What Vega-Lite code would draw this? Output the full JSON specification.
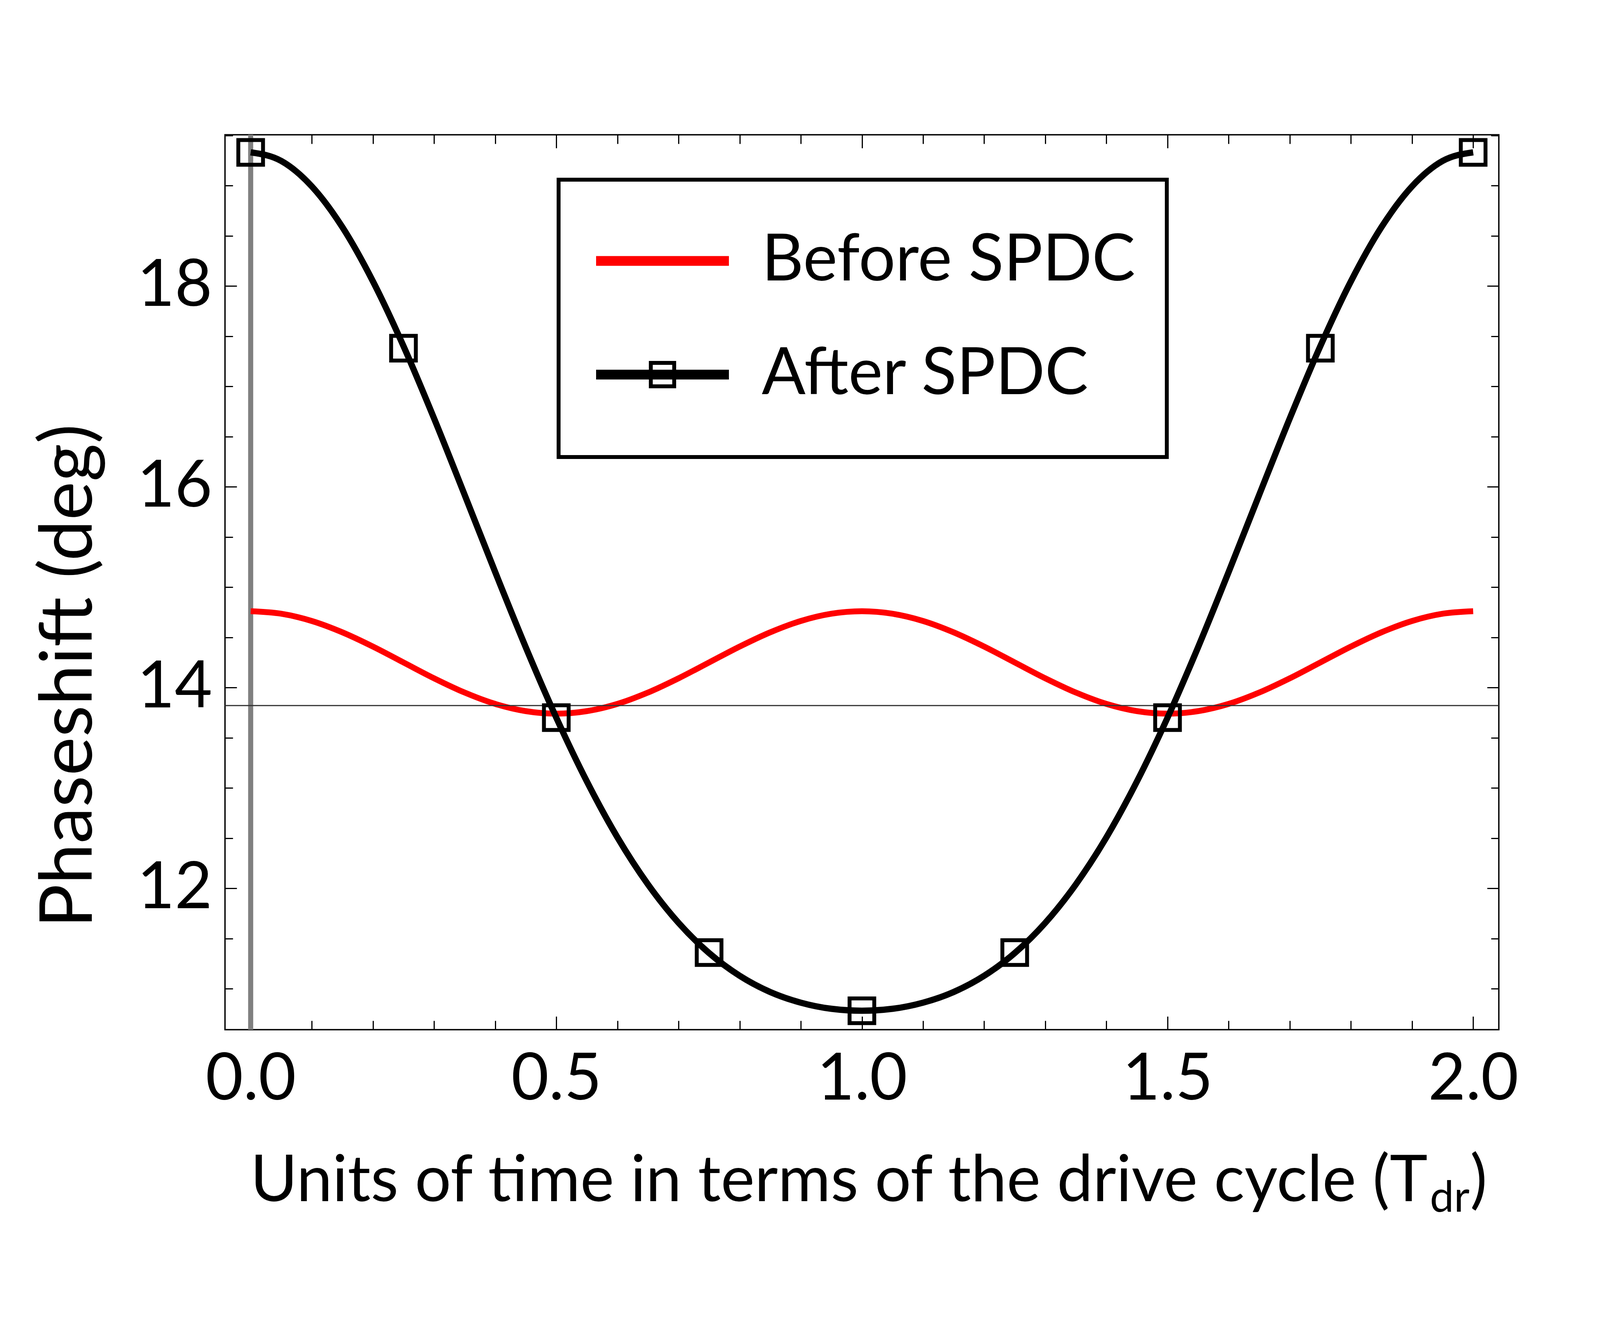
{
  "$schema": "https://vega.github.io/schema/vega-lite/v6.json",
  "width": 3261,
  "height": 2291,
  "autosize": "none",
  "padding": {"left": 576, "top": 345, "right": 259, "bottom": 797},
  "background": "white",
  "config": {
    "font": "Lato",
    "view": {"stroke": "black", "strokeWidth": 3.5},
    "axis": {
      "domain": false,
      "grid": false,
      "tickColor": "black",
      "tickWidth": 3,
      "labelColor": "black",
      "titleColor": "black",
      "labelFont": "Lato",
      "titleFont": "Lato",
      "titleFontWeight": "normal",
      "labelFlush": false,
      "labelOverlap": false,
      "labelLimit": 2000,
      "titleLimit": 5000
    }
  },
  "datasets": {
    "curves": [
      {"t": 0.0, "series": "Before SPDC", "phase": 14.760},
      {"t": 0.05, "series": "Before SPDC", "phase": 14.735},
      {"t": 0.1, "series": "Before SPDC", "phase": 14.663},
      {"t": 0.15, "series": "Before SPDC", "phase": 14.550},
      {"t": 0.2, "series": "Before SPDC", "phase": 14.408},
      {"t": 0.25, "series": "Before SPDC", "phase": 14.250},
      {"t": 0.3, "series": "Before SPDC", "phase": 14.092},
      {"t": 0.35, "series": "Before SPDC", "phase": 13.950},
      {"t": 0.4, "series": "Before SPDC", "phase": 13.837},
      {"t": 0.45, "series": "Before SPDC", "phase": 13.765},
      {"t": 0.5, "series": "Before SPDC", "phase": 13.740},
      {"t": 0.55, "series": "Before SPDC", "phase": 13.765},
      {"t": 0.6, "series": "Before SPDC", "phase": 13.837},
      {"t": 0.65, "series": "Before SPDC", "phase": 13.950},
      {"t": 0.7, "series": "Before SPDC", "phase": 14.092},
      {"t": 0.75, "series": "Before SPDC", "phase": 14.250},
      {"t": 0.8, "series": "Before SPDC", "phase": 14.408},
      {"t": 0.85, "series": "Before SPDC", "phase": 14.550},
      {"t": 0.9, "series": "Before SPDC", "phase": 14.663},
      {"t": 0.95, "series": "Before SPDC", "phase": 14.735},
      {"t": 1.0, "series": "Before SPDC", "phase": 14.760},
      {"t": 1.05, "series": "Before SPDC", "phase": 14.735},
      {"t": 1.1, "series": "Before SPDC", "phase": 14.663},
      {"t": 1.15, "series": "Before SPDC", "phase": 14.550},
      {"t": 1.2, "series": "Before SPDC", "phase": 14.408},
      {"t": 1.25, "series": "Before SPDC", "phase": 14.250},
      {"t": 1.3, "series": "Before SPDC", "phase": 14.092},
      {"t": 1.35, "series": "Before SPDC", "phase": 13.950},
      {"t": 1.4, "series": "Before SPDC", "phase": 13.837},
      {"t": 1.45, "series": "Before SPDC", "phase": 13.765},
      {"t": 1.5, "series": "Before SPDC", "phase": 13.740},
      {"t": 1.55, "series": "Before SPDC", "phase": 13.765},
      {"t": 1.6, "series": "Before SPDC", "phase": 13.837},
      {"t": 1.65, "series": "Before SPDC", "phase": 13.950},
      {"t": 1.7, "series": "Before SPDC", "phase": 14.092},
      {"t": 1.75, "series": "Before SPDC", "phase": 14.250},
      {"t": 1.8, "series": "Before SPDC", "phase": 14.408},
      {"t": 1.85, "series": "Before SPDC", "phase": 14.550},
      {"t": 1.9, "series": "Before SPDC", "phase": 14.663},
      {"t": 1.95, "series": "Before SPDC", "phase": 14.735},
      {"t": 2.0, "series": "Before SPDC", "phase": 14.760},
      {"t": 0.0, "series": "After SPDC", "phase": 19.331},
      {"t": 0.05, "series": "After SPDC", "phase": 19.245},
      {"t": 0.1, "series": "After SPDC", "phase": 18.992},
      {"t": 0.15, "series": "After SPDC", "phase": 18.586},
      {"t": 0.2, "series": "After SPDC", "phase": 18.046},
      {"t": 0.25, "series": "After SPDC", "phase": 17.401},
      {"t": 0.3, "series": "After SPDC", "phase": 16.681},
      {"t": 0.35, "series": "After SPDC", "phase": 15.920},
      {"t": 0.4, "series": "After SPDC", "phase": 15.151},
      {"t": 0.45, "series": "After SPDC", "phase": 14.402},
      {"t": 0.5, "series": "After SPDC", "phase": 13.700},
      {"t": 0.55, "series": "After SPDC", "phase": 13.065},
      {"t": 0.6, "series": "After SPDC", "phase": 12.508},
      {"t": 0.65, "series": "After SPDC", "phase": 12.039},
      {"t": 0.7, "series": "After SPDC", "phase": 11.656},
      {"t": 0.75, "series": "After SPDC", "phase": 11.355},
      {"t": 0.8, "series": "After SPDC", "phase": 11.129},
      {"t": 0.85, "series": "After SPDC", "phase": 10.967},
      {"t": 0.9, "series": "After SPDC", "phase": 10.861},
      {"t": 0.95, "series": "After SPDC", "phase": 10.800},
      {"t": 1.0, "series": "After SPDC", "phase": 10.781},
      {"t": 1.05, "series": "After SPDC", "phase": 10.800},
      {"t": 1.1, "series": "After SPDC", "phase": 10.861},
      {"t": 1.15, "series": "After SPDC", "phase": 10.967},
      {"t": 1.2, "series": "After SPDC", "phase": 11.129},
      {"t": 1.25, "series": "After SPDC", "phase": 11.355},
      {"t": 1.3, "series": "After SPDC", "phase": 11.656},
      {"t": 1.35, "series": "After SPDC", "phase": 12.039},
      {"t": 1.4, "series": "After SPDC", "phase": 12.508},
      {"t": 1.45, "series": "After SPDC", "phase": 13.065},
      {"t": 1.5, "series": "After SPDC", "phase": 13.700},
      {"t": 1.55, "series": "After SPDC", "phase": 14.402},
      {"t": 1.6, "series": "After SPDC", "phase": 15.151},
      {"t": 1.65, "series": "After SPDC", "phase": 15.920},
      {"t": 1.7, "series": "After SPDC", "phase": 16.681},
      {"t": 1.75, "series": "After SPDC", "phase": 17.401},
      {"t": 1.8, "series": "After SPDC", "phase": 18.046},
      {"t": 1.85, "series": "After SPDC", "phase": 18.586},
      {"t": 1.9, "series": "After SPDC", "phase": 18.992},
      {"t": 1.95, "series": "After SPDC", "phase": 19.245},
      {"t": 2.0, "series": "After SPDC", "phase": 19.331}
    ],
    "markers": [
      {"t": 0.0, "phase": 19.33},
      {"t": 0.25, "phase": 17.38},
      {"t": 0.5, "phase": 13.70},
      {"t": 0.75, "phase": 11.36},
      {"t": 1.0, "phase": 10.78},
      {"t": 1.25, "phase": 11.36},
      {"t": 1.5, "phase": 13.70},
      {"t": 1.75, "phase": 17.38},
      {"t": 2.0, "phase": 19.33}
    ],
    "timeref": [{"t": 0}],
    "phaseref": [{"phase": 13.82}]
  },
  "resolve": {"axis": {"x": "independent", "y": "independent"}},
  "layer": [
    {
      "data": {"name": "timeref"},
      "mark": {"type": "rule", "color": "#808080", "strokeWidth": 13},
      "encoding": {
        "x": {
          "field": "t",
          "type": "quantitative",
          "scale": {"domain": [-0.042, 2.042], "nice": false, "zero": false},
          "axis": {
            "orient": "bottom",
            "values": [0, 0.5, 1, 1.5, 2],
            "format": ".1f",
            "tickSize": -34,
            "labelFontSize": 166,
            "labelBaseline": "alphabetic",
            "labelPadding": 212,
            "title": "Units of time in terms of the drive cycle (T",
            "titleFontSize": 164,
            "titleAlign": "right",
            "titleBaseline": "alphabetic",
            "titleX": 3078,
            "titleY": 438
          }
        }
      }
    },
    {
      "data": {"name": "curves"},
      "transform": [{"filter": "datum.series === 'Before SPDC'"}],
      "mark": {"type": "line", "interpolate": "monotone", "strokeWidth": 15},
      "encoding": {
        "x": {
          "field": "t",
          "type": "quantitative",
          "scale": {"domain": [-0.042, 2.042], "nice": false, "zero": false},
          "axis": {
            "orient": "bottom",
            "values": [0, 0.1, 0.2, 0.3, 0.4, 0.5, 0.6, 0.7, 0.8, 0.9, 1, 1.1, 1.2, 1.3, 1.4, 1.5, 1.6, 1.7, 1.8, 1.9, 2],
            "tickSize": -23,
            "labels": false,
            "title": "dr",
            "titleFontSize": 110,
            "titleAlign": "left",
            "titleBaseline": "alphabetic",
            "titleX": 3084,
            "titleY": 465
          }
        },
        "y": {
          "field": "phase",
          "type": "quantitative",
          "scale": {"domain": [10.592, 19.506], "nice": false, "zero": false},
          "axis": {
            "orient": "left",
            "values": [12, 14, 16, 18],
            "tickSize": -30,
            "labelFontSize": 166,
            "labelPadding": 63,
            "title": "Phaseshift (deg)",
            "titleFontSize": 187,
            "titleAngle": -90,
            "titleAlign": "center",
            "titleBaseline": "alphabetic",
            "titleX": -342,
            "titleY": 1385
          }
        },
        "color": {
          "field": "series",
          "type": "nominal",
          "scale": {"domain": ["Before SPDC", "After SPDC"], "range": ["#ff0000", "#000000"]},
          "legend": {
            "orient": "none",
            "legendX": 854,
            "legendY": 115,
            "title": null,
            "padding": 80,
            "strokeColor": "black",
            "fillColor": "white",
            "labelFont": "Lato",
            "labelFontSize": 166,
            "labelColor": "black",
            "labelLimit": 3000,
            "symbolSize": 65536,
            "symbolOffset": 58,
            "labelOffset": 126,
            "rowPadding": 32,
            "encode": {
              "legend": {"update": {"strokeWidth": {"value": 10}}},
              "symbols": {
                "update": {
                  "shape": {"signal": "datum.value === 'After SPDC' ? 'M-1.328,-0.098H1.328V0.098H-1.328ZM-0.273,-0.273H0.273V0.273H-0.273ZM-0.195,-0.195V0.195H0.195V-0.195ZM0,1.02Z' : 'M-1.328,-0.098H1.328V0.098H-1.328ZM0,1.02Z'"},
                  "fill": {"signal": "datum.value === 'After SPDC' ? '#000000' : '#ff0000'"},
                  "fillOpacity": {"value": 1},
                  "opacity": {"value": 1},
                  "stroke": {"value": "transparent"},
                  "strokeWidth": {"value": 0}
                }
              }
            }
          }
        }
      }
    },
    {
      "data": {"name": "phaseref"},
      "mark": {"type": "rule", "color": "#333333", "strokeWidth": 3},
      "encoding": {
        "y": {
          "field": "phase",
          "type": "quantitative",
          "scale": {"domain": [10.592, 19.506], "nice": false, "zero": false},
          "axis": {
            "orient": "left",
            "values": [11, 11.5, 12, 12.5, 13, 13.5, 14, 14.5, 15, 15.5, 16, 16.5, 17, 17.5, 18, 18.5, 19, 19.5],
            "tickSize": -20,
            "labels": false,
            "title": null
          }
        }
      }
    },
    {
      "data": {"name": "curves"},
      "transform": [{"filter": "datum.series === 'After SPDC'"}],
      "mark": {"type": "line", "interpolate": "monotone", "strokeWidth": 16},
      "encoding": {
        "x": {
          "field": "t",
          "type": "quantitative",
          "scale": {"domain": [-0.042, 2.042], "nice": false, "zero": false},
          "axis": {
            "orient": "top",
            "values": [0, 0.5, 1, 1.5, 2],
            "tickSize": -34,
            "labels": false,
            "title": ")",
            "titleFontSize": 164,
            "titleAlign": "left",
            "titleBaseline": "alphabetic",
            "titleX": 3187,
            "titleY": 2729
          }
        },
        "y": {
          "field": "phase",
          "type": "quantitative",
          "scale": {"domain": [10.592, 19.506], "nice": false, "zero": false},
          "axis": {
            "orient": "right",
            "values": [12, 14, 16, 18],
            "tickSize": -30,
            "labels": false,
            "title": null
          }
        },
        "color": {
          "field": "series",
          "type": "nominal",
          "scale": {"domain": ["Before SPDC", "After SPDC"], "range": ["#ff0000", "#000000"]}
        }
      }
    },
    {
      "data": {"name": "markers"},
      "mark": {"type": "point", "shape": "square", "size": 4000, "filled": false, "stroke": "black", "strokeWidth": 10, "opacity": 1},
      "encoding": {
        "x": {
          "field": "t",
          "type": "quantitative",
          "scale": {"domain": [-0.042, 2.042], "nice": false, "zero": false},
          "axis": {
            "orient": "top",
            "values": [0, 0.1, 0.2, 0.3, 0.4, 0.5, 0.6, 0.7, 0.8, 0.9, 1, 1.1, 1.2, 1.3, 1.4, 1.5, 1.6, 1.7, 1.8, 1.9, 2],
            "tickSize": -23,
            "labels": false,
            "title": null
          }
        },
        "y": {
          "field": "phase",
          "type": "quantitative",
          "scale": {"domain": [10.592, 19.506], "nice": false, "zero": false},
          "axis": {
            "orient": "right",
            "values": [11, 11.5, 12, 12.5, 13, 13.5, 14, 14.5, 15, 15.5, 16, 16.5, 17, 17.5, 18, 18.5, 19, 19.5],
            "tickSize": -20,
            "labels": false,
            "title": null
          }
        }
      }
    }
  ]
}
